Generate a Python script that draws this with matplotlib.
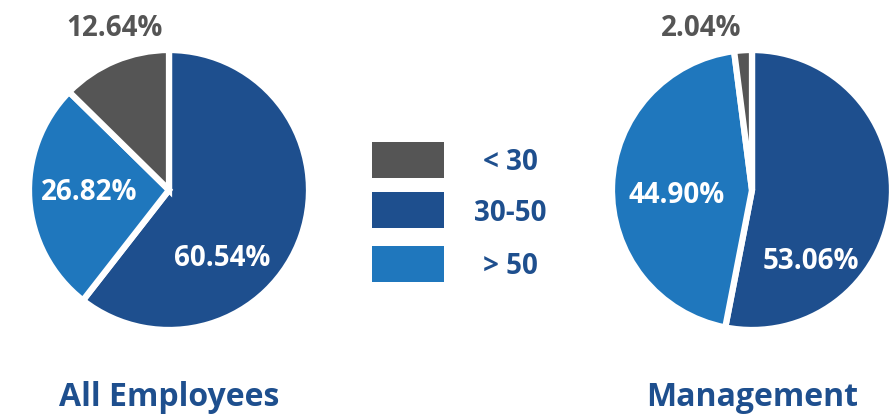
import matplotlib
matplotlib.use("Agg")
import matplotlib.pyplot as plt
from matplotlib.patches import Rectangle

plt.rcParams['font.family'] = ['Open Sans', 'DejaVu Sans']

categories = ['< 30', '30-50', '> 50']
all_employees = [12.64, 60.54, 26.82]
management = [2.04, 53.06, 44.90]
titles = ['All Employees', 'Management']

colors = {'< 30': '#555555', '30-50': '#1e4f8e', '> 50': '#1f77bd'}
label_colors = {'< 30': '#555555', '30-50': 'white', '> 50': 'white'}
title_color = '#1e4f8e'

# drawing order: clockwise from 12 o'clock
order = ['30-50', '> 50', '< 30']

W, H = 895, 417
fig = plt.figure(figsize=(W / 100, H / 100), dpi=100)
fig.patch.set_facecolor('white')

R = 140
pies = [
    (all_employees, 169, 190, {'< 30': (-0.39, 1.15), '> 50': (-0.57, -0.02), '30-50': (0.38, -0.49)}),
    (management, 752, 190, {'< 30': (-0.36, 1.15), '> 50': (-0.54, -0.04), '30-50': (0.42, -0.51)}),
]

for (vals, cx, cy, lpos), title in zip(pies, titles):
    ax = fig.add_axes([(cx - R) / W, (H - cy - R) / H, 2 * R / W, 2 * R / H])
    d = dict(zip(categories, vals))
    v = [d[c] for c in order]
    ax.pie(v, colors=[colors[c] for c in order], startangle=90, counterclock=False,
           radius=1.0, wedgeprops=dict(edgecolor='white', linewidth=4.5))
    ax.set_xlim(-1, 1)
    ax.set_ylim(-1, 1)
    ax.set_aspect('auto')
    ax.axis('off')
    for c in order:
        x, y = lpos[c]
        ax.text(x, y, f"{d[c]:.2f}%", ha='center', va='center', fontsize=20,
                fontweight='bold', color=label_colors[c], clip_on=False)
    fig.text(cx / W, 1 - 398 / H, title, ha='center', va='center', fontsize=23,
             fontweight='bold', color=title_color)

# legend
leg_y = [160, 210, 264]
for c, y in zip(categories, leg_y):
    fig.patches.append(Rectangle((372 / W, 1 - (y + 18) / H), 72 / W, 36 / H,
                                 transform=fig.transFigure, facecolor=colors[c],
                                 edgecolor='none'))
    fig.text(510 / W, 1 - (y + 3) / H, c, ha='center', va='center', fontsize=20,
             fontweight='bold', color=title_color)

fig.savefig('out.png', dpi=100, facecolor='white')
